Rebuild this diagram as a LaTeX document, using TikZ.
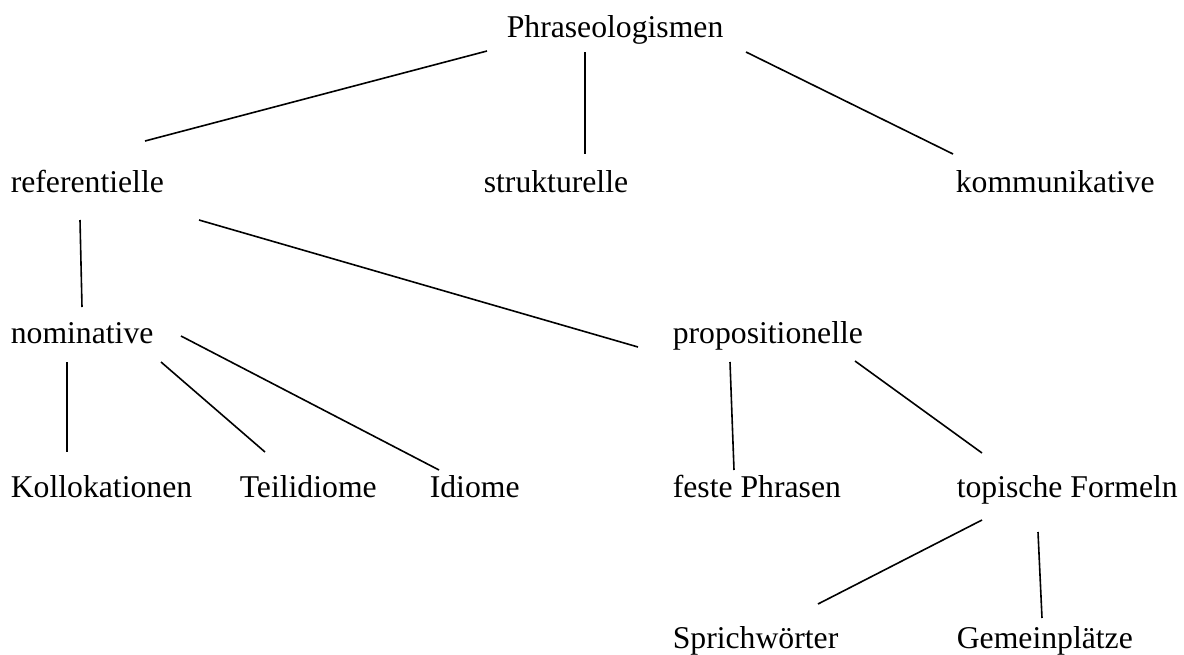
\documentclass[tikz,border=0pt]{standalone}
\usepackage{fontspec}
\setmainfont{Liberation Serif}

\begin{document}
\begin{tikzpicture}[x=1pt, y=-1pt, line width=1.6pt,
	lbl/.style={anchor=base west, inner sep=0pt, font=\fontsize{31.7}{36}\selectfont}]
	\useasboundingbox (0,0) rectangle (1184,654);

	\foreach \name/\x/\y/\txt in {phras/506/37/Phraseologismen, ref/10/192/referentielle,
		struk/483/192/strukturelle, komm/955/192/kommunikative, nom/10/343/nominative,
		prop/672/343/propositionelle, koll/10/497/Kollokationen, teil/239/497/Teilidiome,
		idiom/429/497/Idiome, feste/672/497/feste Phrasen, topi/956/497/topische Formeln,
		sprich/672/648/Sprichwörter, gemein/956/648/Gemeinplätze}
		\node[lbl] (\name) at (\x,\y) {\txt};

	% branches: parent / offset / child / offset
	\foreach \a/\ax/\ay/\b/\bx/\by in {phras/-19/14/ref/135/-51, phras/79/15/struk/102/-38,
		phras/240/15/komm/-2/-38, ref/70/28/nom/72/-36, ref/189/28/prop/-34/4,
		nom/57/19/koll/57/-45, nom/151/19/teil/26/-45, nom/171/-7/idiom/10/-27,
		prop/58/19/feste/62/-27, prop/183/18/topi/26/-44,
		topi/26/23/sprich/146/-44, topi/82/35/gemein/86/-30}
		\draw ([shift={(\ax,\ay)}]\a.base west) -- ([shift={(\bx,\by)}]\b.base west);
\end{tikzpicture}
\end{document}
